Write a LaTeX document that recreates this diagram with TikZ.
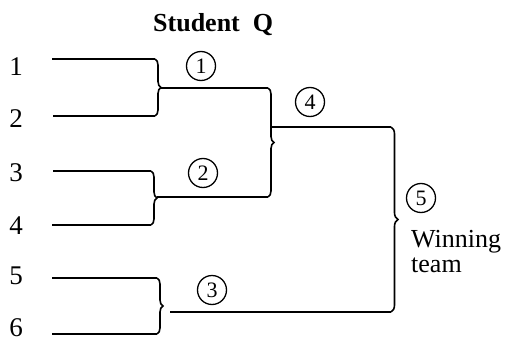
\documentclass[tikz,border=0pt]{standalone}
\usepackage{fontspec}
\setmainfont{Liberation Serif}
\usetikzlibrary{decorations.pathreplacing}
\begin{document}
\begin{tikzpicture}[x=1pt,y=-1pt,
  wire/.style={line width=1.6pt},
  br/.style={line width=1.6pt, decorate, decoration={brace, amplitude=6pt}},
  seed/.style={font=\fontsize{27}{27}\selectfont, inner sep=0pt},
  txt/.style={font=\fontsize{26}{26}\selectfont, inner sep=0pt, anchor=base west},
  circ/.style={draw, circle, line width=1.3pt, minimum size=29pt, inner sep=0pt, font=\fontsize{22}{22}\selectfont}]
\useasboundingbox (0,0) rectangle (507,343);

% title
\node[txt, font=\fontsize{26}{26}\selectfont\bfseries] (title) at (153,31) {Student\ \ Q};

% seeds
\node[seed] (s1) at (16,67) {1};
\node[seed] (s2) at (16,119) {2};
\node[seed] (s3) at (16,173) {3};
\node[seed] (s4) at (16,226) {4};
\node[seed] (s5) at (16,276) {5};
\node[seed] (s6) at (16,328) {6};

% entry lines
\coordinate (a1) at (52,59);  \coordinate (b1) at (155,59);
\coordinate (a2) at (53,116); \coordinate (b2) at (155,116);
\coordinate (a3) at (53,171); \coordinate (b3) at (151,171);
\coordinate (a4) at (52,225); \coordinate (b4) at (151,225);
\coordinate (a5) at (52,278); \coordinate (b5) at (157,278);
\coordinate (a6) at (52,334); \coordinate (b6) at (157,334);
\foreach \i in {1,...,6} {\draw[wire] (a\i) -- (b\i);}

% first round braces
\draw[br] (b1) -- (b2);
\draw[br] (b3) -- (b4);
\draw[br] (b5) -- (b6);

% second level
\coordinate (dT) at (268,88);  \coordinate (dB) at (268,197);
\coordinate (eT) at (391,127); \coordinate (eB) at (391,312);
\coordinate (tA) at (161,88);  \coordinate (tB) at (157,197);
\coordinate (oD) at (271,127); \coordinate (oC) at (170,312);

\draw[wire] (tA) -- (dT);
\draw[wire] (tB) -- (dB);
\draw[br] (dT) -- (dB);
\draw[wire] (oD) -- (eT);
\draw[wire] (oC) -- (eB);
\draw[br, decoration={brace, amplitude=7pt}] (eT) -- (eB);

% match numbers
\node[circ] (m1) at (201,66) {1};
\node[circ] (m2) at (203,173) {2};
\node[circ] (m3) at (212,290) {3};
\node[circ] (m4) at (310,102) {4};
\node[circ] (m5) at (421,198) {5};

\node[txt] (w1) at (411,247) {Winning};
\node[txt] (w2) at (411,272) {team};
\end{tikzpicture}
\end{document}
